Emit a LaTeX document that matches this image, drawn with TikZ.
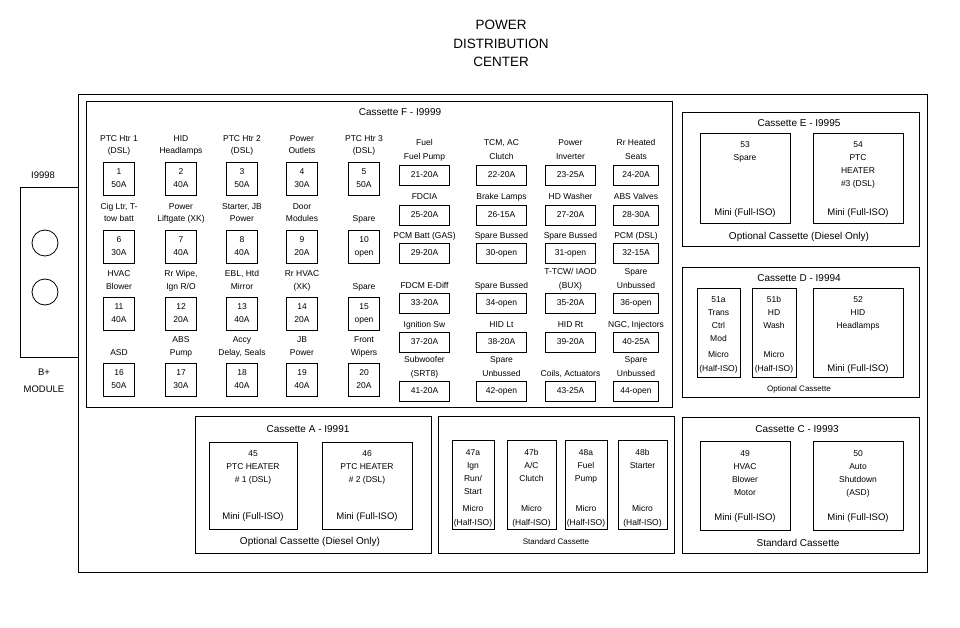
\documentclass[tikz,border=0pt]{standalone}
\usepackage{fontspec}
\setmainfont{Liberation Sans}
\newcommand\fuseL[6]{%
  \node[lbox] (f#1) at (#2,#3+16.5) {#1\\#6};
  \if\relax\detokenize{#4}\relax\else\node[lab] (f#1a) at (#2,#3-20.5) {#4};\fi
  \node[lab] (f#1b) at (#2,#3-8) {#5};}
\newcommand\fuseR[7]{%
  \node[rbox, minimum width=#4pt] (g#1) at (#2,#3) {#7};
  \if\relax\detokenize{#5}\relax\else\node[lab] (g#1a) at (#2,#3-29) {#5};\fi
  \node[lab] (g#1b) at (#2,#3-15) {#6};}
\begin{document}
\begin{tikzpicture}[x=1pt,y=-1pt,
  ln/.style={draw, line width=0.8pt},
  lbox/.style={ln, minimum width=31pt, minimum height=33pt, inner sep=0pt, align=center, font=\fontsize{8.5}{13}\selectfont},
  rbox/.style={ln, minimum height=20pt, inner sep=0pt, font=\fontsize{8.5}{10}\selectfont},
  lab/.style={anchor=base, inner sep=0pt, font=\fontsize{8.5}{10}\selectfont},
  ctitle/.style={anchor=base, inner sep=0pt, font=\fontsize{10}{12}\selectfont},
  cfoot/.style={anchor=base, inner sep=0pt, font=\fontsize{10}{12}\selectfont},
  sfoot/.style={anchor=base, inner sep=0pt, font=\fontsize{8}{10}\selectfont},
  stack/.style={anchor=north, inner sep=0pt, align=center, font=\fontsize{8.5}{13}\selectfont},
  mini/.style={anchor=base, inner sep=0pt, font=\fontsize{9.5}{12}\selectfont},
  big/.style={anchor=base, inner sep=0pt, font=\fontsize{13.5}{16}\selectfont},
  side/.style={anchor=base, inner sep=0pt, font=\fontsize{9.5}{12}\selectfont}]
\useasboundingbox[fill=white] (0,0) rectangle (960,628);

% title
\node[big] (t1) at (501,30) {POWER};
\node[big] (t2) at (501,48.5) {DISTRIBUTION};
\node[big] (t3) at (501,66.5) {CENTER};

% outer frame and B+ module
\draw[ln] (78,94) rectangle (927,572);
\draw[ln] (20,187) rectangle (78,357);
\draw[ln] (45,243) circle (13);
\draw[ln] (45,292) circle (13);
\node[side] (m1) at (43,178.5) {I9998};
\node[side] (m2) at (44,375.5) {B+};
\node[side] (m3) at (44,392) {MODULE};

% cassette F
\draw[ln] (86,101) rectangle (672,407);
\node[ctitle] (cf) at (400,115.5) {Cassette F - I9999};

\fuseL{1}{119}{162}{PTC Htr 1}{(DSL)}{50A}
\fuseL{2}{181}{162}{HID}{Headlamps}{40A}
\fuseL{3}{242}{162}{PTC Htr 2}{(DSL)}{50A}
\fuseL{4}{302}{162}{Power}{Outlets}{30A}
\fuseL{5}{364}{162}{PTC Htr 3}{(DSL)}{50A}
\fuseL{6}{119}{230}{Cig Ltr, T-}{tow batt}{30A}
\fuseL{7}{181}{230}{Power}{Liftgate (XK)}{40A}
\fuseL{8}{242}{230}{Starter, JB}{Power}{40A}
\fuseL{9}{302}{230}{Door}{Modules}{20A}
\fuseL{10}{364}{230}{}{Spare}{open}
\fuseL{11}{119}{297}{HVAC}{Blower}{40A}
\fuseL{12}{181}{297}{Rr Wipe,}{Ign R/O}{20A}
\fuseL{13}{242}{297}{EBL, Htd}{Mirror}{40A}
\fuseL{14}{302}{297}{Rr HVAC}{(XK)}{20A}
\fuseL{15}{364}{297}{}{Spare}{open}
\fuseL{16}{119}{363}{}{ASD}{50A}
\fuseL{17}{181}{363}{ABS}{Pump}{30A}
\fuseL{18}{242}{363}{Accy}{Delay, Seals}{40A}
\fuseL{19}{302}{363}{JB}{Power}{40A}
\fuseL{20}{364}{363}{Front}{Wipers}{20A}

\fuseR{21}{424.5}{175}{50}{Fuel}{Fuel Pump}{21-20A}
\fuseR{22}{501.5}{175}{50}{TCM, AC}{Clutch}{22-20A}
\fuseR{23}{570.5}{175}{50}{Power}{Inverter}{23-25A}
\fuseR{24}{636}{175}{45}{Rr Heated}{Seats}{24-20A}
\fuseR{25}{424.5}{215}{50}{}{FDCIA}{25-20A}
\fuseR{26}{501.5}{215}{50}{}{Brake Lamps}{26-15A}
\fuseR{27}{570.5}{215}{50}{}{HD Washer}{27-20A}
\fuseR{28}{636}{215}{45}{}{ABS Valves}{28-30A}
\fuseR{29}{424.5}{253}{50}{}{PCM Batt (GAS)}{29-20A}
\fuseR{30}{501.5}{253}{50}{}{Spare Bussed}{30-open}
\fuseR{31}{570.5}{253}{50}{}{Spare Bussed}{31-open}
\fuseR{32}{636}{253}{45}{}{PCM (DSL)}{32-15A}
\fuseR{33}{424.5}{303}{50}{}{FDCM E-Diff}{33-20A}
\fuseR{34}{501.5}{303}{50}{}{Spare Bussed}{34-open}
\fuseR{35}{570.5}{303}{50}{T-TCW/ IAOD}{(BUX)}{35-20A}
\fuseR{36}{636}{303}{45}{Spare}{Unbussed}{36-open}
\fuseR{37}{424.5}{342}{50}{}{Ignition Sw}{37-20A}
\fuseR{38}{501.5}{342}{50}{}{HID Lt}{38-20A}
\fuseR{39}{570.5}{342}{50}{}{HID Rt}{39-20A}
\fuseR{40}{636}{342}{45}{}{NGC, Injectors}{40-25A}
\fuseR{41}{424.5}{391}{50}{Subwoofer}{(SRT8)}{41-20A}
\fuseR{42}{501.5}{391}{50}{Spare}{Unbussed}{42-open}
\fuseR{43}{570.5}{391}{50}{}{Coils, Actuators}{43-25A}
\fuseR{44}{636}{391}{45}{Spare}{Unbussed}{44-open}

% cassette E
\draw[ln] (682,112) rectangle (919,246);
\node[ctitle] (ce) at (799,126.5) {Cassette E - I9995};
\draw[ln] (700,133) rectangle (790,223);
\draw[ln] (813,133) rectangle (903,223);
\node[stack] (e53) at (745,141) {53\\Spare};
\node[stack] (e54) at (858,141) {54\\PTC\\HEATER\\\#3 (DSL)};
\node[mini] (e53m) at (745,215) {Mini (Full-ISO)};
\node[mini] (e54m) at (858,215) {Mini (Full-ISO)};
\node[cfoot] (ef) at (799,239.5) {Optional Cassette (Diesel Only)};

% cassette D
\draw[ln] (682,267) rectangle (919,397);
\node[ctitle] (cd) at (799,281.5) {Cassette D - I9994};
\draw[ln] (697,288) rectangle (740,377);
\draw[ln] (752,288) rectangle (796,377);
\draw[ln] (813,288) rectangle (903,377);
\node[stack] (d51a) at (718.5,296) {51a\\Trans\\Ctrl\\Mod};
\node[stack] (d51b) at (774,296) {51b\\HD\\Wash};
\node[stack] (d52) at (858,296) {52\\HID\\Headlamps};
\node[lab] (d51am) at (718.5,357) {Micro};
\node[lab] (d51ah) at (718.5,371) {(Half-ISO)};
\node[lab] (d51bm) at (774,357) {Micro};
\node[lab] (d51bh) at (774,371) {(Half-ISO)};
\node[mini] (d52m) at (858,371) {Mini (Full-ISO)};
\node[sfoot] (df) at (799,391) {Optional Cassette};

% cassette A
\draw[ln] (195,416) rectangle (431,553);
\node[ctitle] (ca) at (308,432.5) {Cassette A - I9991};
\draw[ln] (209,442) rectangle (297,529);
\draw[ln] (322,442) rectangle (412,529);
\node[stack] (a45) at (253,450) {45\\PTC HEATER\\\# 1 (DSL)};
\node[stack] (a46) at (367,450) {46\\PTC HEATER\\\# 2 (DSL)};
\node[mini] (a45m) at (253,519) {Mini (Full-ISO)};
\node[mini] (a46m) at (367,519) {Mini (Full-ISO)};
\node[cfoot] (af) at (310,544.5) {Optional Cassette (Diesel Only)};

% standard cassette (middle)
\draw[ln] (438,416) rectangle (674,553);
\draw[ln] (452,440) rectangle (494,529);
\draw[ln] (507,440) rectangle (556,529);
\draw[ln] (565,440) rectangle (607,529);
\draw[ln] (618,440) rectangle (667,529);
\node[stack] (s47a) at (473,449) {47a\\Ign\\Run/\\Start};
\node[stack] (s47b) at (531.5,449) {47b\\A/C\\Clutch};
\node[stack] (s48a) at (586,449) {48a\\Fuel\\Pump};
\node[stack] (s48b) at (642.5,449) {48b\\Starter};
\node[lab] (s47am) at (473,511) {Micro};
\node[lab] (s47ah) at (473,525) {(Half-ISO)};
\node[lab] (s47bm) at (531.5,511) {Micro};
\node[lab] (s47bh) at (531.5,525) {(Half-ISO)};
\node[lab] (s48am) at (586,511) {Micro};
\node[lab] (s48ah) at (586,525) {(Half-ISO)};
\node[lab] (s48bm) at (642.5,511) {Micro};
\node[lab] (s48bh) at (642.5,525) {(Half-ISO)};
\node[sfoot] (sf) at (556,544) {Standard Cassette};

% cassette C
\draw[ln] (682,417) rectangle (919,553);
\node[ctitle] (cc) at (797,432.5) {Cassette C - I9993};
\draw[ln] (700,441) rectangle (790,530);
\draw[ln] (813,441) rectangle (903,530);
\node[stack] (c49) at (745,450) {49\\HVAC\\Blower\\Motor};
\node[stack] (c50) at (858,450) {50\\Auto\\Shutdown\\(ASD)};
\node[mini] (c49m) at (745,520) {Mini (Full-ISO)};
\node[mini] (c50m) at (858,520) {Mini (Full-ISO)};
\node[cfoot] (cfo) at (798,546.5) {Standard Cassette};
\end{tikzpicture}
\end{document}
